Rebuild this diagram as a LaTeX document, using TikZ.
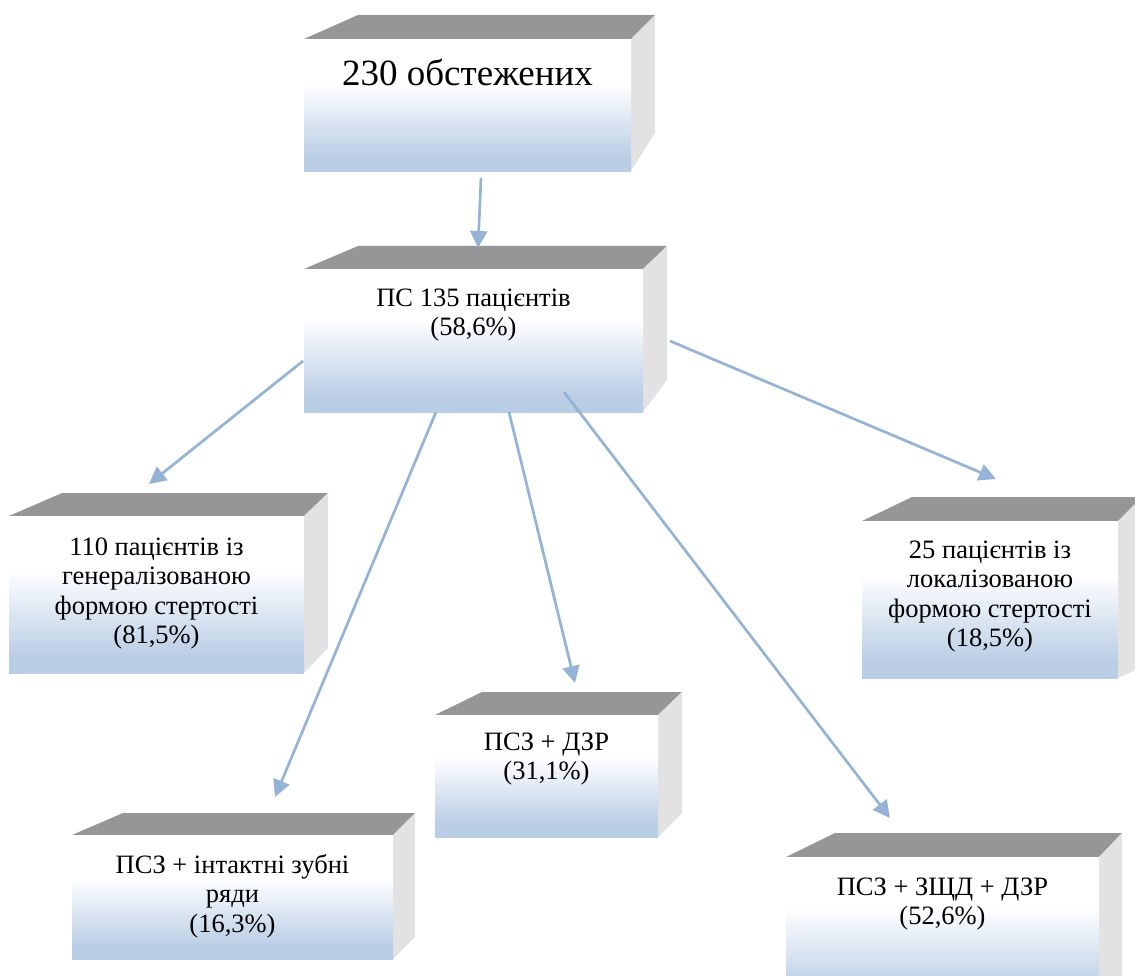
\documentclass[tikz,border=0pt]{standalone}
\usepackage{fontspec}
\setmainfont{Liberation Serif}
\usetikzlibrary{arrows.meta}
\definecolor{boxblue}{RGB}{185,205,229}
\definecolor{topgray}{RGB}{150,150,150}
\definecolor{sidegray}{RGB}{226,226,226}
\definecolor{arrowblue}{RGB}{149,179,215}
\pgfdeclareverticalshading{frontshade}{100bp}{color(0bp)=(boxblue); color(30bp)=(boxblue); color(58bp)=(white); color(100bp)=(white)}
\tikzset{
  frontface/.style={shading=frontshade, draw=none, inner sep=0pt, anchor=north west},
  boxtext/.style={anchor=north, align=center, inner sep=0pt, font=\fontsize{26.5}{29.5}\selectfont},
  bigtext/.style={anchor=north, align=center, inner sep=0pt, font=\fontsize{37}{40}\selectfont},
  conn/.style={draw=arrowblue, line width=2.7pt, -{Triangle[length=17pt,width=17pt]}}
}
% name, L, T, R, B, back-left x, back-top y, back-right x, side-bottom y
\newcommand{\cubebox}[9]{%
  \fill[topgray] (#2,#3) -- (#6,#7) -- (#8,#7) -- (#4,#3) -- cycle;
  \fill[sidegray] (#4,#3) -- (#8,#7) -- (#8,#9) -- (#4,#5) -- cycle;
  \node[frontface, minimum width={(#4-#2)*1pt}, minimum height={(#5-#3)*1pt}] (#1) at (#2,#3) {};
}
\begin{document}
\begin{tikzpicture}[x=1pt,y=-1pt]
\useasboundingbox (0,0) rectangle (1135,976);
\clip (0,0) rectangle (1135,976);
\cubebox{b1}{304}{39}{631}{171}{358}{15}{655}{133}
\cubebox{b2}{304}{269}{643}{412}{358}{246}{667}{380}
\cubebox{b3}{9}{516}{304}{673}{62}{493}{328}{648}
\cubebox{b4}{435}{715}{658}{837}{482}{692}{682}{813}
\cubebox{b5}{72}{835}{393}{959}{123}{813}{415}{937}
\cubebox{b6}{786}{857}{1099}{1005}{835}{833}{1122}{975}
\cubebox{b7}{862}{521}{1118}{678}{912}{497}{1142}{667}

\node[bigtext] (t1) at (467.5,58) {\rule{0pt}{27pt}230 обстежених};
\node[boxtext] (t2) at (473.5,286) {\rule{0pt}{20pt}ПС 135 пацієнтів\\(58,6\%)};
\node[boxtext] (t3) at (156.5,535) {\rule{0pt}{20pt}110 пацієнтів із\\генералізованою\\формою стертості\\(81,5\%)};
\node[boxtext] (t4) at (546.5,730) {\rule{0pt}{20pt}ПСЗ + ДЗР\\(31,1\%)};
\node[boxtext] (t5) at (232.5,853) {\rule{0pt}{20pt}ПСЗ + інтактні зубні\\ряди\\(16,3\%)};
\node[boxtext] (t6) at (942.5,875) {\rule{0pt}{20pt}ПСЗ + ЗЩД + ДЗР\\(52,6\%)};
\node[boxtext] (t7) at (990,538) {\rule{0pt}{20pt}25 пацієнтів із\\локалізованою\\формою стертості\\(18,5\%)};

\coordinate (a1s) at (481,178);  \coordinate (a1e) at (478,248);
\coordinate (a2s) at (303,361);  \coordinate (a2e) at (149,484);
\coordinate (a3s) at (670,341);  \coordinate (a3e) at (996,479);
\coordinate (a4s) at (436,412);  \coordinate (a4e) at (275,797);
\coordinate (a5s) at (509,412);  \coordinate (a5e) at (575,683);
\coordinate (a6s) at (564,392);  \coordinate (a6e) at (890,818);
\draw[conn] (a1s) -- (a1e);
\draw[conn] (a2s) -- (a2e);
\draw[conn] (a3s) -- (a3e);
\draw[conn] (a4s) -- (a4e);
\draw[conn] (a5s) -- (a5e);
\draw[conn] (a6s) -- (a6e);
\end{tikzpicture}
\end{document}
